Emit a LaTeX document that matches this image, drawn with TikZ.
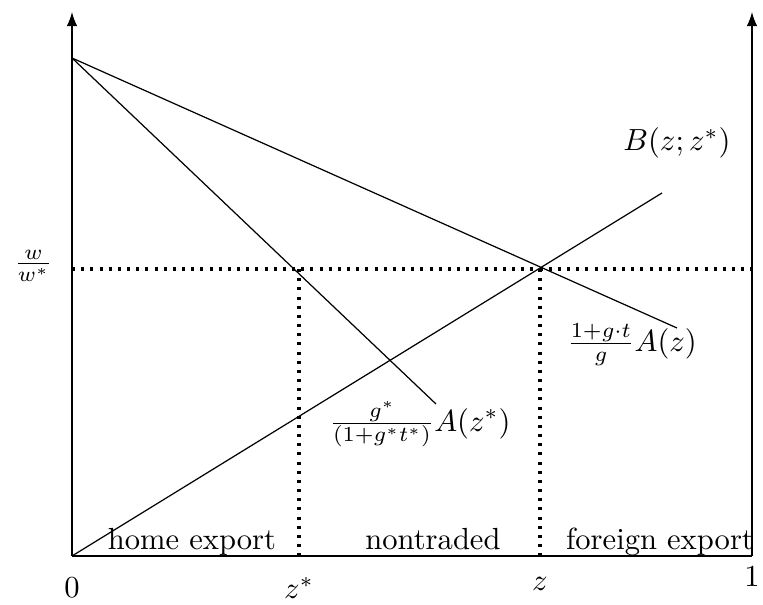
\documentclass[tikz,border=0pt]{standalone}
\usetikzlibrary{arrows}

\begin{document}
\begin{tikzpicture}[x=0.115cm,y=0.115cm,>=latex,every node/.style={font=\normalsize}]
  \useasboundingbox (-7.2,-4.9) rectangle (69.1,55.6);
  % key points
  \coordinate (O) at (0,0);
  \coordinate (one) at (68,0);
  \coordinate (ytop) at (0,54.4);
  \coordinate (rtop) at (68,54.4);
  \coordinate (astart) at (0,49.8);
  \coordinate (aend) at (60.5,22.8);
  \coordinate (asend) at (36.4,15.2);
  \coordinate (bend) at (59.0,36.3);
  \coordinate (hl) at (0,28.7);
  \coordinate (hr) at (68,28.7);
  \coordinate (zs) at (22.7,28.7);
  \coordinate (zsb) at (22.7,0);
  \coordinate (zz) at (46.8,28.7);
  \coordinate (zzb) at (46.8,0);
  % axes
  \draw[->,semithick] (O) -- (ytop);
  \draw[->,semithick] (one) -- (rtop);
  \draw (O) -- (one);
  % curves
  \draw (astart) -- (aend);
  \draw (astart) -- (asend);
  \draw (O) -- (bend);
  % equilibrium lines
  \draw[line width=1pt,dotted] (hl) -- (hr);
  \draw[line width=1pt,dotted] (zs) -- (zsb);
  \draw[line width=1pt,dotted] (zz) -- (zzb);
  % labels
  \node[below] (l0) at (0,-1.1) {$0$};
  \node[below] (lzs) at (22.7,-1.1) {$z^*$};
  \node[below] (lz) at (46.8,-1.1) {$z$};
  \node[below] (l1) at (one) {$1$};
  \node (lw) at (-3.85,29.0) {$\frac{w}{w^*}$};
  \node[anchor=base] (home) at (12.0,0.6) {home export};
  \node[anchor=base] (nt) at (36.1,0.6) {nontraded};
  \node[anchor=base] (for) at (58.8,0.6) {foreign export};
  \node (lb) at (60.5,41.3) {$B(z;z^*)$};
  \node (las) at (34.8,13.2) {$\frac{g^*}{(1+g^*t^*)}A(z^*)$};
  \node (la) at (56.0,21.1) {$\frac{1+g\cdot t}{g}A(z)$};
\end{tikzpicture}
\end{document}
